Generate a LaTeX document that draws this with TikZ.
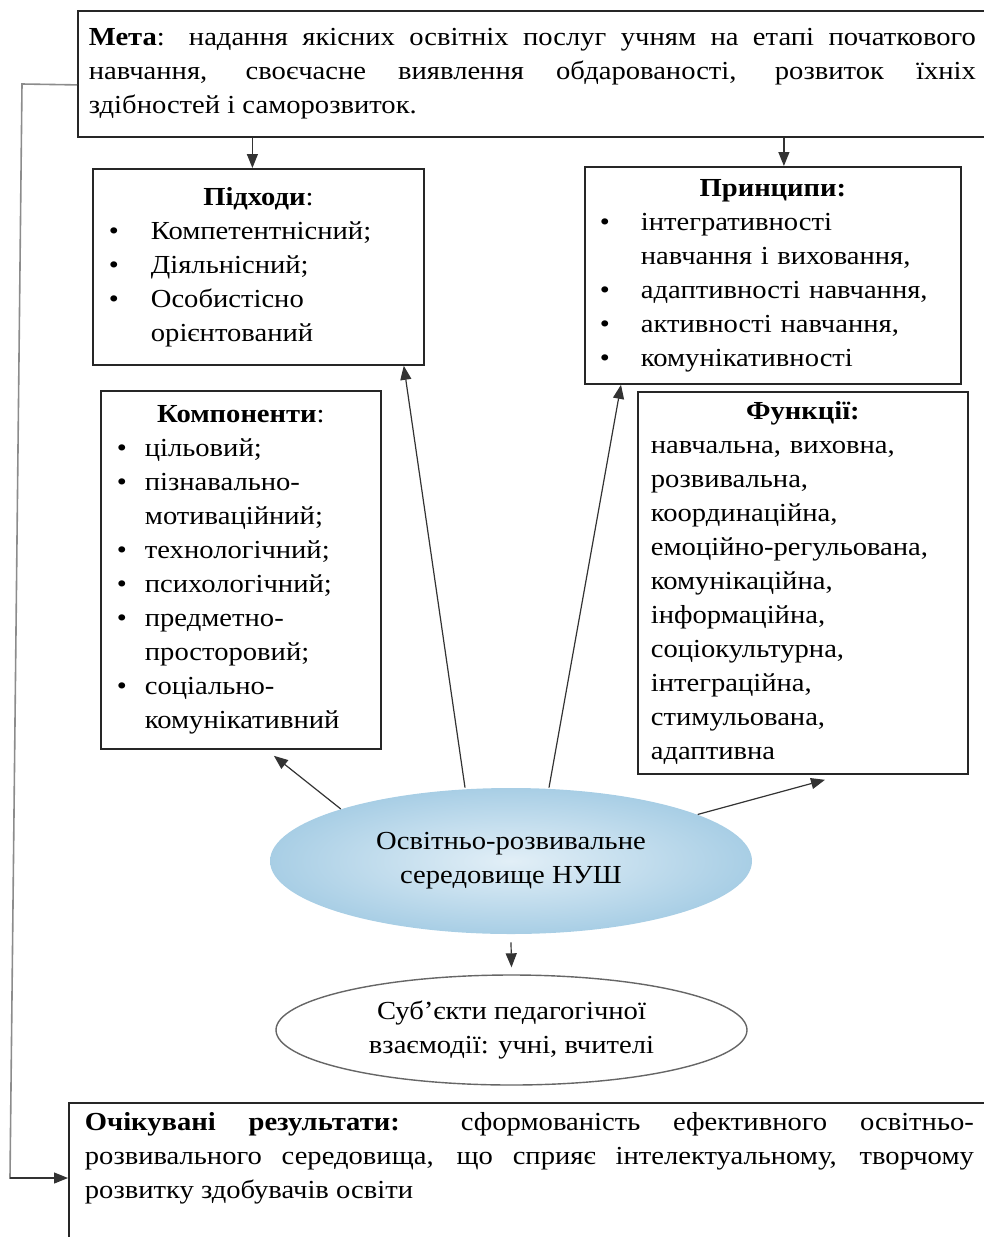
\documentclass[tikz,border=0pt]{standalone}
\usepackage{fontspec}
\setmainfont[FakeStretch=1.1]{Liberation Serif}
\usetikzlibrary{positioning,arrows.meta,shapes.geometric}
\definecolor{envblue}{RGB}{168,206,229}
\definecolor{envlight}{RGB}{226,239,247}
\definecolor{fbgray}{RGB}{140,140,140}
\newcommand{\boxtitle}[1]{\centerline{#1}\par}
\newcommand{\bitem}[2]{\par\noindent\hangindent=#1\hangafter=1\makebox[#1][l]{\textbullet}\ignorespaces #2\par}

\begin{document}
\begin{tikzpicture}[x=0.5pt,y=-0.5pt,
    every node/.style={font=\fontsize{13}{17}\selectfont},
    box/.style={draw=black!85,line width=0.9pt,anchor=north west,align=left},
    env/.style={ellipse,shade,inner color=envlight,outer color=envblue,inner sep=0pt,
      minimum width=241pt,minimum height=73pt,align=center},
    subj/.style={ellipse,draw=black!60,line width=0.7pt,fill=white,inner sep=0pt,
      minimum width=235.5pt,minimum height=55pt,align=center},
    arr/.style={-{Triangle[length=7pt,width=5.5pt]},draw=black!80,line width=0.6pt},
    fb/.style={draw=fbgray,line width=0.8pt}]
    \useasboundingbox (0,0) rectangle (984,1237);
    \clip (0,0) rectangle (984,1237);
    \node(meta) [box,text width=443.5pt,inner xsep=5.5pt,minimum height=63pt,align=justify] at (77,10)
      {\textbf{Мета}: надання якісних освітніх послуг учням на етапі початкового\linebreak
       навчання, своєчасне виявлення обдарованості, розвиток їхніх\linebreak
       здібностей і саморозвиток.};
    \node(pidkhody) [box,text width=149.5pt,inner xsep=8pt,minimum height=98pt] at (92,168)
      {\boxtitle{\textbf{Підходи}:}\bitem{21pt}{Компетентнісний;}\bitem{21pt}{Діяльнісний;}%
       \bitem{21pt}{Особистісно\newline орієнтований}};
    \node(pryntsypy) [box,text width=173pt,inner xsep=7.5pt,minimum height=108.5pt] at (584,166)
      {\boxtitle{\textbf{Принципи:}}\bitem{20.5pt}{інтегративності\newline навчання і виховання,}%
       \bitem{20.5pt}{адаптивності навчання,}\bitem{20.5pt}{активності навчання,}%
       \bitem{20.5pt}{комунікативності}};
    \node(komponenty) [box,text width=124pt,inner xsep=8pt,minimum height=179pt] at (100,390)
      {\boxtitle{\textbf{Компоненти}:}\bitem{14pt}{цільовий;}\bitem{14pt}{пізнавально-\newline мотиваційний;}%
       \bitem{14pt}{технологічний;}\bitem{14pt}{психологічний;}\bitem{14pt}{предметно-\newline просторовий;}%
       \bitem{14pt}{соціально-\newline комунікативний}};
    \node(funktsii) [box,text width=152pt,inner xsep=6.5pt,minimum height=191pt] at (637,391)
      {\boxtitle{\textbf{Функції:}}навчальна, виховна,\\розвивальна,\\координаційна,\\емоційно-регульована,\\
       комунікаційна,\\інформаційна,\\соціокультурна,\\інтеграційна,\\стимульована,\\адаптивна};
    \node(env) [env] at (511,861) {Освітньо-розвивальне\\середовище НУШ};
    \node(subj) [subj] at (511.5,1030) {Суб’єкти педагогічної\\взаємодії: учні, вчителі};
    \node(result) [box,text width=444.5pt,inner xsep=8pt,inner ysep=5pt,align=justify,text depth=70pt] at (68,1102)
      {\textbf{Очікувані результати:} сформованість ефективного освітньо-\linebreak
       розвивального середовища, що сприяє інтелектуальному, творчому\linebreak
       розвитку здобувачів освіти};
    \coordinate(a1) at ([xshift=-3pt]pidkhody.north);
    \coordinate(a2) at ([xshift=5.5pt]pryntsypy.north);
    \draw[arr] (a1 |- meta.south) -- (a1);
    \draw[arr] (a2 |- meta.south) -- (a2);
    \draw[arr] ([xshift=-23pt]env.north) -- ([xshift=-10.5pt]pidkhody.south east);
    \draw[arr] ([xshift=19pt]env.north) -- ([xshift=18.5pt]pryntsypy.south west);
    \draw[arr] (env.163) -- ([xshift=16.5pt,yshift=-3pt]komponenty.south);
    \draw[arr] (env.14) -- ([xshift=94pt,yshift=-2.5pt]funktsii.south west);
    \draw[arr] ([yshift=-4pt]env.south) -- ([yshift=3.5pt]subj.north);
    \coordinate(fbtop) at (22,84);
    \coordinate(fbbot) at (10,1178);
    \draw[fb] ([yshift=-5.5pt]meta.west) -- (fbtop) -- (fbbot) -- ++(4,0);
    \draw[arr] (fbbot) -- (fbbot -| result.west);
  \end{tikzpicture}
\end{document}
